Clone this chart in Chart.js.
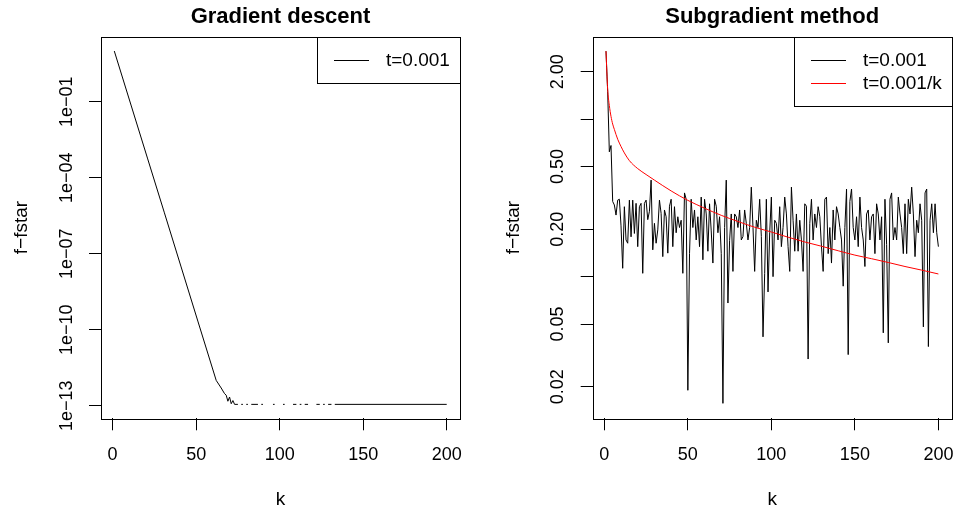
<!DOCTYPE html>
<html>
<head>
<meta charset="utf-8">
<title>Gradient descent / Subgradient method</title>
<script src="https://cdn.jsdelivr.net/npm/chart.js"></script>
<style>
    body { margin: 0; background: #fff; }
    .wrap { position: relative; width: 958px; height: 516px; }
    canvas { position: absolute; top: 0; }
</style>
</head>
<body>
<div class="wrap">
    <canvas id="gd" width="479" height="516" style="left:0"></canvas>
    <canvas id="sg" width="479" height="516" style="left:479px"></canvas>
</div>
<script>
// x axis ticks (same for both panels)
const xTicks = [0, 50, 100, 150, 200];

// Gradient descent, t=0.001 : iteration k and f-fstar
// null = f-fstar not positive, so nothing is drawn on the log axis
const gdK = [1, 11, 21, 31, 41, 51, 62, 65, 67, 68, 69, 70, 71, 72,
             73, 75, 76, 77, 78, 79, 80, 81, 82, 83, 87, 88, 89, 90, 93,
             96, 97, 100, 102, 103, 106, 108, 110, 111, 112, 113, 114,
             115, 117, 120, 122, 124, 125, 126, 127, 128, 129, 131, 132, 133, 200];
const gdF = [10.0, 7.4e-2, 5.5e-4, 4.1e-6, 3.0e-8, 2.2e-10, 1.0e-12, 5.0e-13, 3.0e-13, 2.6e-13,
             1.5e-13, 2.2e-13, 1.2e-13, 1.6e-13,
             1.13e-13, 1.13e-13, null, 1.13e-13, 1.13e-13, null, 1.13e-13, 1.13e-13, null,
             1.13e-13, 1.13e-13, null, 1.13e-13, 1.13e-13, null,
             1.13e-13, 1.13e-13, null, 1.13e-13, 1.13e-13, null, 1.13e-13, 1.13e-13, null,
             1.13e-13, 1.13e-13, null, 1.13e-13, 1.13e-13, null, 1.13e-13, 1.13e-13, null,
             1.13e-13, 1.13e-13, null, 1.13e-13, 1.13e-13, null, 1.13e-13, 1.13e-13];
const gdTicks = [1e-13, 1e-10, 1e-7, 1e-4, 1e-1];
const gdTickLabels = ['1e\u221213', '1e\u221210', '1e\u221207', '1e\u221204', '1e\u221201'];

// Subgradient method, t=0.001 : f-fstar for k = 1..200
const sgFixed = [
    2.70, 1.50, 0.62, 0.68, 0.30, 0.285, 0.246, 0.306, 0.31, 0.21,
    0.113, 0.278, 0.171, 0.163, 0.306, 0.179, 0.306, 0.188, 0.292, 0.155,
    0.278, 0.292, 0.105, 0.292, 0.306, 0.23, 0.26, 0.41, 0.148, 0.218,
    0.163, 0.198, 0.306, 0.252, 0.134, 0.265, 0.24, 0.141, 0.28, 0.31,
    0.155, 0.278, 0.19, 0.24, 0.205, 0.228, 0.105, 0.34, 0.31, 0.019,
    0.14, 0.31, 0.205, 0.265, 0.171, 0.24, 0.155, 0.32, 0.128, 0.31,
    0.25, 0.145, 0.29, 0.195, 0.122, 0.31, 0.28, 0.19, 0.24, 0.14,
    0.0157, 0.205, 0.41, 0.068, 0.17, 0.25, 0.108, 0.25, 0.24, 0.205,
    0.265, 0.171, 0.18, 0.265, 0.218, 0.171, 0.205, 0.37, 0.205, 0.108,
    0.228, 0.205, 0.31, 0.18, 0.0415, 0.105, 0.31, 0.08, 0.19, 0.32,
    0.10, 0.228, 0.218, 0.171, 0.278, 0.155, 0.205, 0.32, 0.25, 0.155,
    0.108, 0.37, 0.228, 0.145, 0.25, 0.145, 0.228, 0.171, 0.108, 0.29,
    0.28, 0.030, 0.218, 0.31, 0.171, 0.25, 0.205, 0.278, 0.24, 0.155,
    0.108, 0.31, 0.32, 0.14, 0.205, 0.122, 0.265, 0.171, 0.278, 0.25,
    0.205, 0.171, 0.087, 0.205, 0.36, 0.032, 0.30, 0.36, 0.205, 0.171,
    0.24, 0.155, 0.32, 0.205, 0.171, 0.116, 0.25, 0.265, 0.171, 0.24,
    0.25, 0.14, 0.29, 0.25, 0.171, 0.24, 0.044, 0.31, 0.16, 0.038,
    0.31, 0.34, 0.171, 0.205, 0.171, 0.32, 0.25, 0.205, 0.14, 0.29,
    0.14, 0.31, 0.25, 0.37, 0.25, 0.134, 0.228, 0.19, 0.29, 0.228,
    0.048, 0.34, 0.36, 0.036, 0.228, 0.29, 0.19, 0.29, 0.19, 0.155
];
// Subgradient method, t=0.001/k : read at these k
const sgDecK = [1, 2, 3, 4, 5, 6, 8, 10, 12, 15, 20, 25, 30, 40, 50, 60, 70, 80, 90, 100,
                110, 120, 130, 140, 150, 160, 170, 180, 190, 200];
const sgDecF = [2.70, 1.55, 1.22, 1.04, 0.93, 0.86, 0.745, 0.67, 0.61, 0.545, 0.485, 0.445, 0.41, 0.35, 0.305,
                0.272, 0.245, 0.224, 0.206, 0.192, 0.178, 0.166, 0.156, 0.146, 0.137, 0.13, 0.123, 0.116, 0.110, 0.104];
const sgTicks = [0.02, 0.05, 0.1, 0.2, 0.5, 1, 2];
const sgTickLabels = ['0.02', '0.05', '', '0.20', '0.50', '', '2.00'];

const FONT = '"Liberation Sans", Arial, sans-serif';
Chart.defaults.font.family = FONT;
Chart.defaults.font.size = 18;
Chart.defaults.color = '#000';

// R style: full box, title above, legend box in the top right corner
const rFrame = {
    id: 'rFrame',
    afterDraw(chart, args, opts) {
        const { ctx, chartArea: a } = chart;
        ctx.save();
        ctx.strokeStyle = '#000';
        ctx.lineWidth = 1;
        ctx.strokeRect(Math.round(a.left) + 0.5, Math.round(a.top) + 0.5,
                       Math.round(a.right - a.left), Math.round(a.bottom - a.top));

        ctx.fillStyle = '#000';
        ctx.font = 'bold 22px ' + FONT;
        ctx.textAlign = 'center';
        ctx.textBaseline = 'alphabetic';
        ctx.fillText(opts.title, (a.left + a.right) / 2, 23);

        ctx.font = '19px ' + FONT;
        const sets = chart.data.datasets;
        const tw = Math.max(...sets.map(d => ctx.measureText(d.label).width));
        const w = Math.round(tw + 79), h = Math.round(sets.length * 23 + 23);
        const x0 = Math.round(a.right - w), y0 = Math.round(a.top);
        ctx.fillStyle = '#fff';
        ctx.fillRect(x0, y0, w, h);
        ctx.strokeRect(x0 + 0.5, y0 + 0.5, w, h);
        ctx.textAlign = 'left';
        ctx.textBaseline = 'middle';
        sets.forEach((d, i) => {
            const y = Math.round(y0 + 23 + i * 22.7) + 0.5;
            ctx.strokeStyle = d.borderColor;
            ctx.beginPath();
            ctx.moveTo(x0 + 17, y);
            ctx.lineTo(x0 + 52, y);
            ctx.stroke();
            ctx.fillStyle = '#000';
            ctx.fillText(d.label, x0 + 69, y);
        });
        ctx.restore();
    }
};

function makeChart(id, cfg) {
    return new Chart(document.getElementById(id), {
        type: 'line',
        data: { datasets: cfg.datasets },
        options: {
            responsive: false,
            animation: false,
            devicePixelRatio: 1,
            layout: { padding: { top: 36.7, right: cfg.padRight, bottom: 0, left: 0 } },
            elements: { point: { radius: 0 }, line: { borderWidth: 1, tension: 0 } },
            plugins: {
                legend: { display: false },
                tooltip: { enabled: false },
                rFrame: { title: cfg.title }
            },
            scales: {
                x: {
                    type: 'linear',
                    min: -6.96,
                    max: 207.96,
                    afterBuildTicks: s => { s.ticks = xTicks.map(v => ({ value: v })); },
                    afterFit: s => { s.height = 97.7; s.paddingLeft = 0; s.paddingRight = 0; },
                    ticks: { padding: 14, maxRotation: 0, autoSkip: false },
                    grid: { drawOnChartArea: false, tickLength: 12, color: '#000' },
                    border: { display: false },
                    title: { display: true, text: 'k', font: { size: 19 }, padding: { top: 0, bottom: 4.6 } }
                },
                y: {
                    type: 'logarithmic',
                    min: cfg.yMin,
                    max: cfg.yMax,
                    afterBuildTicks: s => { s.ticks = cfg.yTicks.map(v => ({ value: v })); },
                    afterFit: s => { s.width = cfg.yWidth; s.paddingTop = 0; s.paddingBottom = 0; },
                    ticks: {
                        minRotation: 90,
                        maxRotation: 90,
                        crossAlign: 'center',
                        padding: cfg.yPad,
                        autoSkip: false,
                        callback: (v, i) => cfg.yLabels[i]
                    },
                    grid: { drawOnChartArea: false, tickLength: 12, color: '#000' },
                    border: { display: false },
                    title: { display: true, text: 'f\u2212fstar', font: { size: 19 }, padding: { top: cfg.titlePad, bottom: 0 } }
                }
            }
        },
        plugins: [rFrame]
    });
}

makeChart('gd', {
    title: 'Gradient descent',
    padRight: 19,
    yWidth: 101,
    yPad: -3,
    titlePad: 10.3,
    yMin: Math.pow(10, -13.497),
    yMax: Math.pow(10, 1.566),
    yTicks: gdTicks,
    yLabels: gdTickLabels,
    datasets: [{
        label: 't=0.001',
        data: gdK.map((k, i) => ({ x: k, y: gdF[i] })),
        borderColor: '#000',
        spanGaps: false
    }]
});

makeChart('sg', {
    title: 'Subgradient method',
    padRight: 6.3,
    yWidth: 113.7,
    yPad: 4.9,
    titlePad: 22.9,
    yMin: Math.pow(10, -1.899),
    yMax: Math.pow(10, 0.523),
    yTicks: sgTicks,
    yLabels: sgTickLabels,
    datasets: [{
        label: 't=0.001',
        data: sgFixed.map((v, i) => ({ x: i + 1, y: v })),
        borderColor: '#000',
        order: 1
    }, {
        label: 't=0.001/k',
        data: sgDecK.map((k, i) => ({ x: k, y: sgDecF[i] })),
        borderColor: '#ff0000',
        cubicInterpolationMode: 'monotone',
        order: 0
    }]
});
</script>
</body>
</html>
